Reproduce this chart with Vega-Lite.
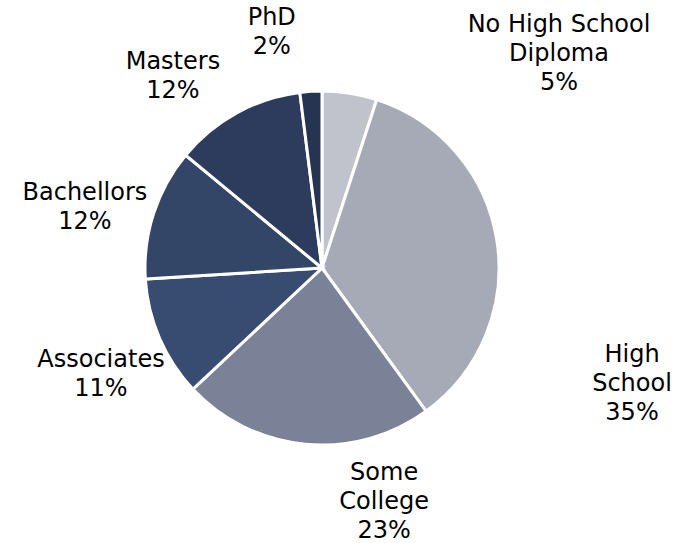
{
  "$schema": "https://vega.github.io/schema/vega-lite/v6.json",
  "width": 644,
  "height": 536,
  "autosize": "none",
  "padding": {"left": 0, "right": 50, "top": 0, "bottom": 7},
  "background": "white",
  "config": {"view": {"stroke": null}},
  "data": {
    "values": [
      {"id": 1, "category": "No High School Diploma", "value": 5, "label": "No High School\nDiploma\n5%"},
      {"id": 2, "category": "High School", "value": 35, "label": "High\nSchool\n35%"},
      {"id": 3, "category": "Some College", "value": 23, "label": "Some\nCollege\n23%"},
      {"id": 4, "category": "Associates", "value": 11, "label": "Associates\n11%"},
      {"id": 5, "category": "Bachelors", "value": 12, "label": "Bachellors\n12%"},
      {"id": 6, "category": "Masters", "value": 12, "label": "Masters\n12%"},
      {"id": 7, "category": "PhD", "value": 2, "label": "PhD\n2%"}
    ]
  },
  "encoding": {
    "theta": {"field": "value", "type": "quantitative", "stack": true},
    "order": {"field": "id", "type": "quantitative"}
  },
  "layer": [
    {
      "mark": {"type": "arc", "outerRadius": 177, "stroke": "white", "strokeWidth": 3},
      "encoding": {
        "color": {
          "field": "category",
          "type": "nominal",
          "legend": null,
          "scale": {
            "domain": ["No High School Diploma", "High School", "Some College", "Associates", "Bachelors", "Masters", "PhD"],
            "range": ["#c0c3cc", "#a6aab7", "#7b8197", "#384b70", "#344668", "#2d3c5c", "#263451"]
          }
        }
      }
    },
    {
      "mark": {"type": "text", "radius": 243, "dx": 199, "dy": -3, "fontSize": 24, "font": "DejaVu Sans", "lineBreak": "\n", "lineHeight": 29, "align": "center", "baseline": "middle", "color": "black"},
      "encoding": {"text": {"condition": {"test": "datum.id == 1", "field": "label"}, "value": ""}}
    },
    {
      "mark": {"type": "text", "radius": 243, "dx": 70, "dy": 125, "fontSize": 24, "font": "DejaVu Sans", "lineBreak": "\n", "lineHeight": 29, "align": "center", "baseline": "middle", "color": "black"},
      "encoding": {"text": {"condition": {"test": "datum.id == 2", "field": "label"}, "value": ""}}
    },
    {
      "mark": {"type": "text", "radius": 243, "dx": 85, "dy": -37, "fontSize": 24, "font": "DejaVu Sans", "lineBreak": "\n", "lineHeight": 29, "align": "center", "baseline": "middle", "color": "black"},
      "encoding": {"text": {"condition": {"test": "datum.id == 3", "field": "label"}, "value": ""}}
    },
    {
      "mark": {"type": "text", "radius": 243, "dx": 2, "dy": -5, "fontSize": 24, "font": "DejaVu Sans", "lineBreak": "\n", "lineHeight": 29, "align": "center", "baseline": "middle", "color": "black"},
      "encoding": {"text": {"condition": {"test": "datum.id == 4", "field": "label"}, "value": ""}}
    },
    {
      "mark": {"type": "text", "radius": 243, "dx": -6, "dy": 0, "fontSize": 24, "font": "DejaVu Sans", "lineBreak": "\n", "lineHeight": 29, "align": "center", "baseline": "middle", "color": "black"},
      "encoding": {"text": {"condition": {"test": "datum.id == 5", "field": "label"}, "value": ""}}
    },
    {
      "mark": {"type": "text", "radius": 243, "dx": -32, "dy": 7, "fontSize": 24, "font": "DejaVu Sans", "lineBreak": "\n", "lineHeight": 29, "align": "center", "baseline": "middle", "color": "black"},
      "encoding": {"text": {"condition": {"test": "datum.id == 6", "field": "label"}, "value": ""}}
    },
    {
      "mark": {"type": "text", "radius": 243, "dx": -35, "dy": -7, "fontSize": 24, "font": "DejaVu Sans", "lineBreak": "\n", "lineHeight": 29, "align": "center", "baseline": "middle", "color": "black"},
      "encoding": {"text": {"condition": {"test": "datum.id == 7", "field": "label"}, "value": ""}}
    }
  ]
}
